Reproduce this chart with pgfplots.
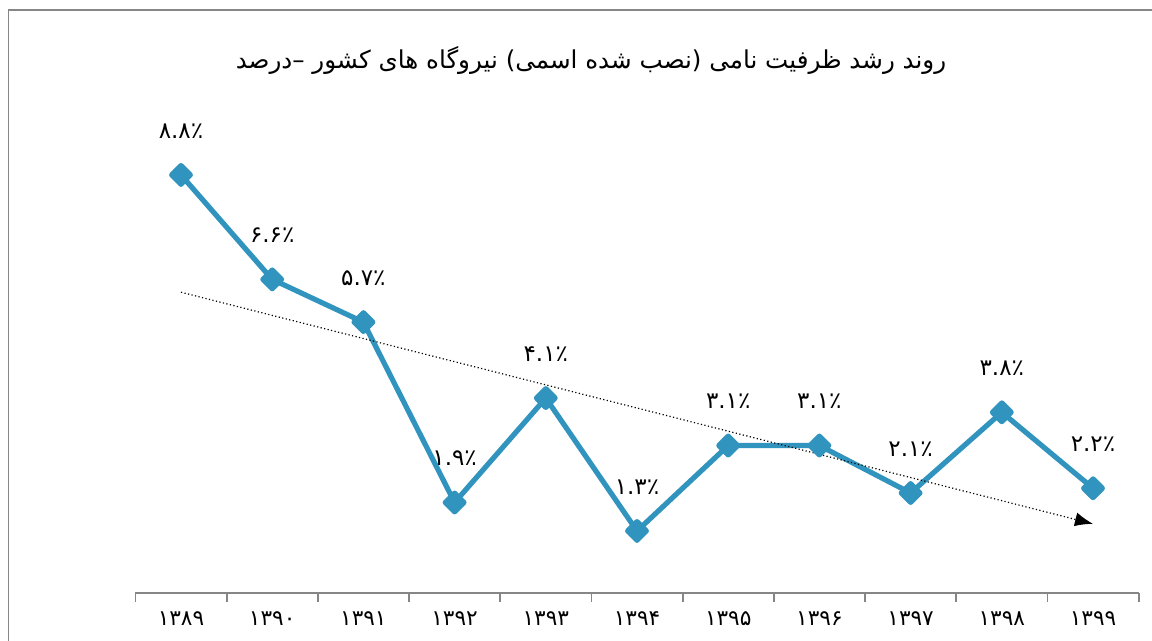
\documentclass[border=0pt]{standalone}
\usepackage{fontspec}
\usepackage{pgfplots}
\pgfplotsset{compat=1.18}
\usetikzlibrary{arrows.meta}
\newfontfamily\arabicfont[Script=Arabic]{DejaVu Sans}
\TeXXeTstate=1
\definecolor{lineblue}{RGB}{49,148,190}
\definecolor{axisgray}{RGB}{134,134,134}
\begin{document}
\begin{tikzpicture}
\useasboundingbox (0,0) rectangle (576pt,320.5pt);
\fill[white] (0,0) rectangle (576pt,320.5pt);
\draw[axisgray, line width=0.8pt] (4.25pt,-10pt) -- (4.25pt,315.5pt) -- (590pt,315.5pt);
\node[font=\arabicfont\fontsize{12.3}{14}\selectfont] at (295.5pt,290.5pt) {\beginR روند رشد ظرفیت نامی (نصب شده اسمی) نیروگاه های کشور –درصد\endR};
\begin{axis}[at={(67.7pt,24.15pt)}, anchor=south west, scale only axis,
  width=501.6pt, height=237.35pt,
  xmin=0.5, xmax=11.5, ymin=0, ymax=10,
  axis x line*=bottom, axis y line=none,
  axis line style={axisgray, line width=0.9pt},
  xtick={1,...,11},
  xticklabels={۱۳۸۹,۱۳۹۰,۱۳۹۱,۱۳۹۲,۱۳۹۳,۱۳۹۴,۱۳۹۵,۱۳۹۶,۱۳۹۷,۱۳۹۸,۱۳۹۹},
  major tick length=0pt,
  minor xtick={0.5,1.5,...,11.5}, minor tick length=4.5pt,
  tick align=outside,
  tick style={axisgray, line width=0.9pt},
  xticklabel style={font=\arabicfont\fontsize{10.8}{12}\selectfont, black, yshift=-6pt},
  clip=false]
\addplot[lineblue, line width=2.6pt, line join=round,
  mark=square*, mark size=3.3pt, mark options={rotate=45, solid, fill=lineblue},
  nodes near coords, point meta=explicit symbolic,
  every node near coord/.append style={font=\arabicfont\fontsize{11.5}{13}\selectfont, text=black, anchor=center, yshift=22pt}]
coordinates {
(1,8.8) [۸.۸٪]
(2,6.6) [۶.۶٪]
(3,5.7) [۵.۷٪]
(4,1.9) [۱.۹٪]
(5,4.1) [۴.۱٪]
(6,1.3) [۱.۳٪]
(7,3.1) [۳.۱٪]
(8,3.1) [۳.۱٪]
(9,2.1) [۲.۱٪]
(10,3.8) [۳.۸٪]
(11,2.2) [۲.۲٪]
};
\addplot[black, line width=0.6pt, dash pattern=on 0.6pt off 1.2pt,
  -{Latex[length=9pt,width=7pt]}] coordinates {(1,6.33) (11,1.45)};
\end{axis}
\end{tikzpicture}
\end{document}
